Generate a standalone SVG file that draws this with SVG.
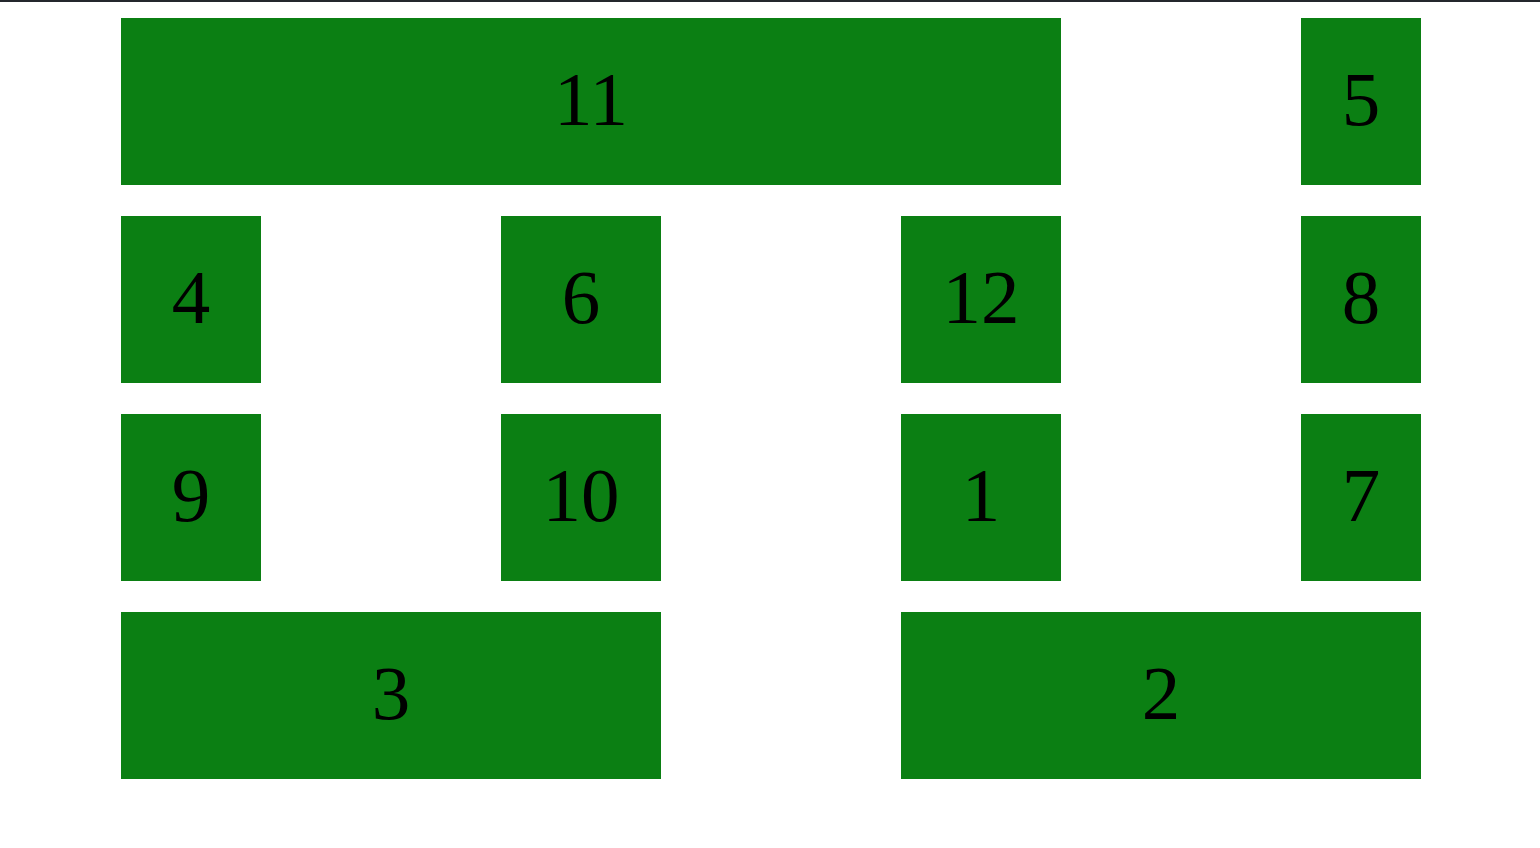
<svg xmlns="http://www.w3.org/2000/svg" width="1540" height="848" viewBox="0 0 1540 848">
<style>
.n rect{fill:#0b7f13}
.n text{font-family:"Liberation Serif","Times New Roman",serif;font-size:77px;fill:#000;text-anchor:middle}
</style>
<rect x="0" y="0" width="1540" height="848" fill="#fff"/>
<rect x="0" y="0" width="1540" height="2" fill="#24272d"/>
<g id="n11" class="n"><rect x="121" y="18" width="940" height="167"/><text x="591" y="125">11</text></g>
<g id="n5" class="n"><rect x="1301" y="18" width="120" height="167"/><text x="1361" y="125">5</text></g>
<g id="n4" class="n"><rect x="121" y="216" width="140" height="167"/><text x="191" y="323">4</text></g>
<g id="n6" class="n"><rect x="501" y="216" width="160" height="167"/><text x="581" y="323">6</text></g>
<g id="n12" class="n"><rect x="901" y="216" width="160" height="167"/><text x="981" y="323">12</text></g>
<g id="n8" class="n"><rect x="1301" y="216" width="120" height="167"/><text x="1361" y="323">8</text></g>
<g id="n9" class="n"><rect x="121" y="414" width="140" height="167"/><text x="191" y="521">9</text></g>
<g id="n10" class="n"><rect x="501" y="414" width="160" height="167"/><text x="581" y="521">10</text></g>
<g id="n1" class="n"><rect x="901" y="414" width="160" height="167"/><text x="981" y="521">1</text></g>
<g id="n7" class="n"><rect x="1301" y="414" width="120" height="167"/><text x="1361" y="521">7</text></g>
<g id="n3" class="n"><rect x="121" y="612" width="540" height="167"/><text x="391" y="719">3</text></g>
<g id="n2" class="n"><rect x="901" y="612" width="520" height="167"/><text x="1161" y="719">2</text></g>
<g id="connectors"></g>
</svg>
